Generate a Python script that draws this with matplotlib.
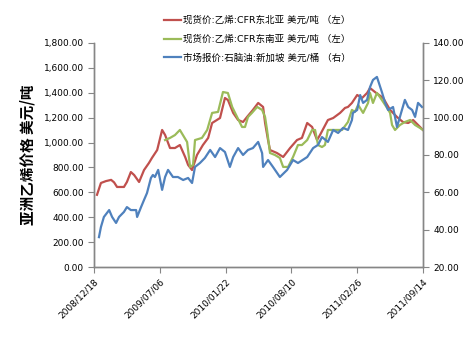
import pandas as pd
import matplotlib
matplotlib.use("Agg")
import matplotlib.pyplot as plt
import matplotlib.dates as mdates
from matplotlib.ticker import FuncFormatter

plt.rcParams['font.family'] = ['DejaVu Sans', 'Noto Sans CJK SC']

# 现货价:乙烯:CFR东北亚 (美元/吨, 左轴)
ne_dates = ["2008-12-27", "2009-01-08", "2009-01-23", "2009-02-08", "2009-02-17", "2009-02-26",
            "2009-03-19", "2009-03-28", "2009-04-09", "2009-04-19", "2009-05-04", "2009-05-19",
            "2009-06-03", "2009-06-12", "2009-06-28", "2009-07-13", "2009-07-22", "2009-08-06",
            "2009-08-21", "2009-09-05", "2009-09-21", "2009-09-30", "2009-10-12", "2009-10-27",
            "2009-11-14", "2009-11-30", "2009-12-12", "2010-01-05", "2010-01-20", "2010-01-29",
            "2010-02-14", "2010-03-01", "2010-03-16", "2010-03-28", "2010-04-15", "2010-05-01",
            "2010-05-16", "2010-05-22", "2010-05-31", "2010-06-06", "2010-06-27", "2010-07-16",
            "2010-08-06", "2010-08-27", "2010-09-11", "2010-09-27", "2010-10-12", "2010-10-27",
            "2010-11-05", "2010-11-29", "2010-12-15", "2011-01-05", "2011-01-20", "2011-01-29",
            "2011-02-10", "2011-02-26", "2011-03-13", "2011-03-28", "2011-04-06", "2011-04-21",
            "2011-05-16", "2011-06-06", "2011-06-27", "2011-07-15", "2011-07-31", "2011-08-15",
            "2011-08-30", "2011-09-14"]
ne_price = [580, 675, 690, 700, 680, 643,
            643, 683, 763, 739, 683, 779,
            836, 876, 940, 1101, 1061, 956,
            956, 980, 884, 820, 779, 900,
            980, 1037, 1157, 1197, 1358, 1342,
            1238, 1181, 1165, 1205, 1262, 1318,
            1286, 1157, 1020, 940, 916, 884,
            956, 1020, 1037, 1157, 1125, 1020,
            1061, 1181, 1197, 1238, 1278, 1286,
            1318, 1382, 1358, 1398, 1438, 1406,
            1358, 1262, 1205, 1165, 1157, 1181,
            1141, 1101]

# 现货价:乙烯:CFR东南亚 (美元/吨, 左轴)
se_dates = ["2009-07-22", "2009-08-06", "2009-08-21", "2009-09-05", "2009-09-27", "2009-10-06",
            "2009-10-15", "2009-10-21", "2009-11-11", "2009-11-27", "2009-12-12", "2009-12-30",
            "2010-01-14", "2010-01-29", "2010-02-11", "2010-02-26", "2010-03-13", "2010-03-22",
            "2010-03-31", "2010-04-12", "2010-04-28", "2010-05-13", "2010-05-22", "2010-05-28",
            "2010-06-06", "2010-06-21", "2010-07-06", "2010-07-16", "2010-07-31", "2010-08-15",
            "2010-08-30", "2010-09-11", "2010-09-27", "2010-10-12", "2010-10-21", "2010-10-30",
            "2010-11-11", "2010-11-20", "2010-11-29", "2011-01-11", "2011-01-29", "2011-02-10",
            "2011-02-19", "2011-03-01", "2011-03-16", "2011-03-31", "2011-04-06", "2011-04-15",
            "2011-04-27", "2011-05-06", "2011-05-28", "2011-06-06", "2011-06-12", "2011-06-21",
            "2011-07-06", "2011-07-21", "2011-08-06", "2011-08-21", "2011-09-05", "2011-09-14"]
se_price = [1020, 1037, 1060, 1101, 1004, 804,
            820, 1020, 1037, 1101, 1238, 1246,
            1406, 1398, 1286, 1205, 1125, 1125,
            1205, 1238, 1286, 1262, 1205, 1101,
            916, 900, 876, 804, 804, 884,
            980, 980, 1020, 1101, 1101, 980,
            964, 980, 1101, 1101, 1165, 1262,
            1246, 1302, 1238, 1318, 1398, 1318,
            1398, 1366, 1278, 1238, 1141, 1101,
            1141, 1165, 1181, 1141, 1117, 1101]

# 市场报价:石脑油:新加坡 (美元/桶, 右轴)
nap_dates = ["2009-01-02", "2009-01-08", "2009-01-17", "2009-02-02", "2009-02-11", "2009-02-23",
             "2009-03-04", "2009-03-19", "2009-03-28", "2009-04-09", "2009-04-25", "2009-04-28",
             "2009-05-10", "2009-05-19", "2009-05-28", "2009-06-09", "2009-06-15", "2009-06-21",
             "2009-07-01", "2009-07-13", "2009-07-22", "2009-07-31", "2009-08-15", "2009-08-30",
             "2009-09-15", "2009-09-30", "2009-10-12", "2009-10-21", "2009-11-05", "2009-11-20",
             "2009-12-06", "2009-12-21", "2010-01-05", "2010-01-20", "2010-02-04", "2010-02-14",
             "2010-03-01", "2010-03-16", "2010-03-31", "2010-04-15", "2010-05-01", "2010-05-13",
             "2010-05-16", "2010-05-31", "2010-06-15", "2010-07-06", "2010-07-28", "2010-08-15",
             "2010-08-30", "2010-09-27", "2010-10-15", "2010-10-30", "2010-11-11", "2010-11-29",
             "2010-12-15", "2010-12-30", "2011-01-14", "2011-01-29", "2011-02-10", "2011-02-13",
             "2011-02-26", "2011-03-07", "2011-03-16", "2011-03-28", "2011-04-06", "2011-04-15",
             "2011-04-27", "2011-04-30", "2011-05-13", "2011-05-22", "2011-05-31", "2011-06-15",
             "2011-06-27", "2011-07-12", "2011-07-21", "2011-07-31", "2011-08-12", "2011-08-21",
             "2011-08-30", "2011-09-11"]
nap_price = [36.0, 41.4, 46.8, 50.5, 46.8, 43.6,
             46.8, 49.5, 52.1, 50.5, 50.5, 46.8,
             52.1, 55.9, 59.6, 67.7, 69.3, 68.2,
             72.0, 61.3, 68.2, 72.0, 68.2, 68.2,
             66.6, 67.7, 65.0, 73.6, 75.7, 78.4,
             82.7, 78.9, 83.7, 81.6, 73.6, 78.9,
             83.7, 80.0, 82.7, 83.7, 87.0, 81.0,
             73.6, 77.3, 73.6, 68.2, 72.0, 77.3,
             75.7, 78.9, 83.7, 85.4, 89.6, 87.0,
             93.4, 91.8, 94.5, 93.4, 98.7, 102.5,
             104.1, 112.1, 107.9, 109.5, 116.4, 120.2,
             121.8, 120.2, 113.2, 107.9, 104.1, 105.7,
             95.0, 104.1, 109.5, 105.7, 104.1, 100.4,
             107.9, 105.7]

tick_dates = ["2008-12-18", "2009-07-06", "2010-01-22", "2010-08-10", "2011-02-26", "2011-09-14"]

c_red, c_green, c_blue = "#C0504D", "#9BBB59", "#4F81BD"
axis_gray = "#868686"

fig = plt.figure(figsize=(4.68, 3.41), dpi=100)
ax = fig.add_axes([0.2009, 0.217, 0.7029, 0.657])
ax2 = ax.twinx()

l1, = ax.plot(pd.to_datetime(ne_dates), ne_price, color=c_red, lw=1.6,
              label="现货价:乙烯:CFR东北亚 美元/吨 （左）")
l2, = ax.plot(pd.to_datetime(se_dates), se_price, color=c_green, lw=1.6,
              label="现货价:乙烯:CFR东南亚 美元/吨 （左）")
l3, = ax2.plot(pd.to_datetime(nap_dates), nap_price, color=c_blue, lw=1.6,
               label="市场报价:石脑油:新加坡 美元/桶 （右）")

ticks = pd.to_datetime(tick_dates)
ax.set_xlim(ticks[0], ticks[-1])
ax.set_xticks(ticks)
ax.xaxis.set_major_formatter(mdates.DateFormatter("%Y/%m/%d"))
for lab in ax.get_xticklabels():
    lab.set_rotation(45)
    lab.set_ha("right")
    lab.set_rotation_mode("anchor")
    lab.set_fontsize(6.5)

ax.set_ylim(0, 1800)
ax.set_yticks(range(0, 1801, 200))
ax.yaxis.set_major_formatter(FuncFormatter(lambda v, p: f"{v:,.2f}"))
ax2.set_ylim(20, 140)
ax2.set_yticks(range(20, 141, 20))
ax2.yaxis.set_major_formatter(FuncFormatter(lambda v, p: f"{v:.2f}"))

for a in (ax, ax2):
    a.spines["top"].set_visible(False)
    for s in ("left", "right", "bottom"):
        a.spines[s].set_color(axis_gray)
        a.spines[s].set_linewidth(1.0)
    a.tick_params(axis="both", colors=axis_gray, labelcolor="black",
                  labelsize=6.5, length=4, width=0.8, direction="out")

ax.set_ylabel("亚洲乙烯价格 美元/吨", fontsize=10.5, fontweight="bold",
              family=["Noto Sans CJK SC", "DejaVu Sans"], labelpad=6)

fig.legend(handles=[l1, l2, l3], loc="upper left", bbox_to_anchor=(0.342, 0.965),
           frameon=False, fontsize=6.8, handlelength=1.8, handletextpad=0.25,
           labelspacing=1.0, borderaxespad=0)

fig.savefig("out.png", dpi=100)
